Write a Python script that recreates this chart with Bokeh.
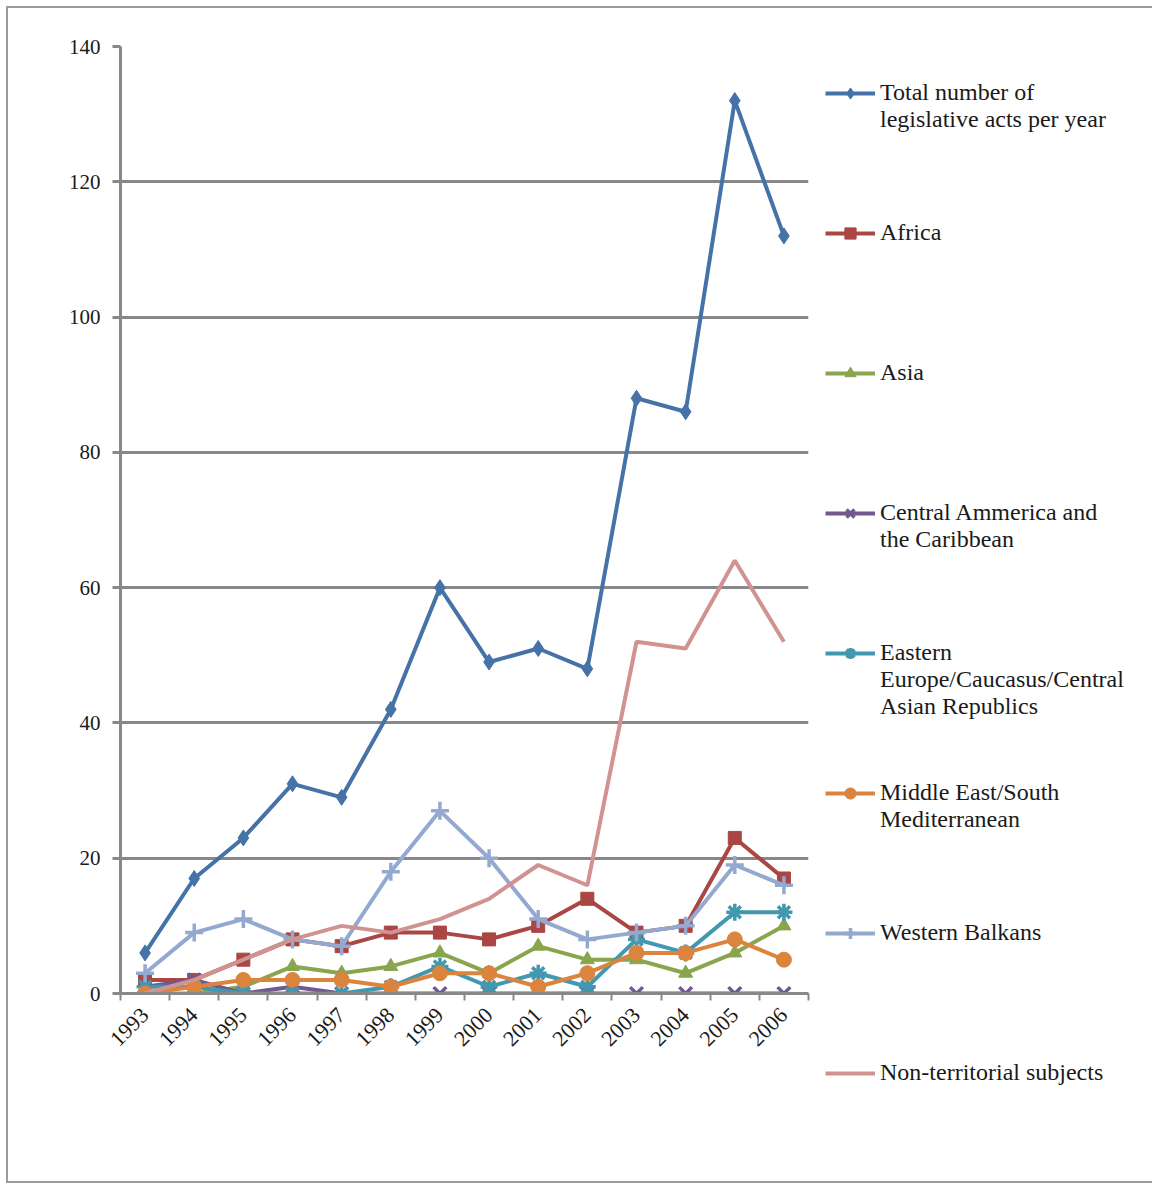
from bokeh.plotting import figure
from bokeh.models import FixedTicker, Legend, LegendItem, Range1d
from bokeh.embed import file_html
from bokeh.resources import INLINE

years = ["1993", "1994", "1995", "1996", "1997", "1998", "1999",
         "2000", "2001", "2002", "2003", "2004", "2005", "2006"]
total = [6, 17, 23, 31, 29, 42, 60, 49, 51, 48, 88, 86, 132, 112]
africa = [2, 2, 5, 8, 7, 9, 9, 8, 10, 14, 9, 10, 23, 17]
asia = [0, 0, 1, 4, 3, 4, 6, 3, 7, 5, 5, 3, 6, 10]
central_america = [1, 2, 0, 1, 0, 0, 0, 0, 0, 0, 0, 0, 0, 0]
eastern_europe = [1, 1, 0, 0, 0, 1, 4, 1, 3, 1, 8, 6, 12, 12]
middle_east = [0, 1, 2, 2, 2, 1, 3, 3, 1, 3, 6, 6, 8, 5]
western_balkans = [3, 9, 11, 8, 7, 18, 27, 20, 11, 8, 9, 10, 19, 16]
non_territorial = [0, 2, 5, 8, 10, 9, 11, 14, 19, 16, 52, 51, 64, 52]
y_ticks = [0, 20, 40, 60, 80, 100, 120, 140]

label_lines = [
    ["Total number of", "legislative acts per year"],
    ["Africa"],
    ["Asia"],
    ["Central Ammerica and", "the Caribbean"],
    ["Eastern", "Europe/Caucasus/Central", "Asian Republics"],
    ["Middle East/South", "Mediterranean"],
    ["Western Balkans"],
    ["Non-territorial subjects"],
]
series = [total, africa, asia, central_america, eastern_europe,
          middle_east, western_balkans, non_territorial]
colors = ["#4572A7", "#AA4643", "#89A54E", "#71588F", "#4198AF",
          "#DB843D", "#93A9CF", "#D19392"]
markers = ["diamond", "square", "triangle", "x", "asterisk", "circle", "cross", None]
sizes = [16, 13, 14, 18, 17, 15, 18, 0]

xs = list(range(len(years)))

p = figure(frame_width=688, frame_height=947, output_backend="svg", toolbar_location=None,
           x_range=Range1d(-0.5, len(years) - 0.5), y_range=Range1d(0, 140),
           min_border_left=112, min_border_right=340, min_border_top=38,
           min_border_bottom=188)
p.styles = {"border": "2px solid #9a9a9a", "margin-left": "6px", "margin-top": "6px"}
p.outline_line_color = None
p.background_fill_color = "white"

items = []
for ys, col, mk, sz, lines in zip(series, colors, markers, sizes, label_lines):
    rs = [p.line(xs, ys, line_color=col, line_width=4)]
    if mk is not None:
        if mk in ("x", "asterisk", "cross"):
            rs.append(p.scatter(xs, ys, marker=mk, size=sz, line_color=col,
                                line_width=3.5, fill_color=col))
        else:
            rs.append(p.scatter(xs, ys, marker=mk, size=sz, line_color=col,
                                fill_color=col))
    # pad so that the first text line sits at the vertical centre (glyph line)
    padded = [" ", " "] + lines + [" "] * (3 - len(lines))
    items.append(LegendItem(label="\n".join(padded), renderers=rs))

legend = Legend(items=items, location=(17, -147), border_line_color=None,
                background_fill_alpha=0, glyph_width=50, glyph_height=28,
                label_standoff=5, label_text_font="Liberation Serif",
                label_text_font_size="24px", label_text_color="#1a1a1a",
                label_height=28, spacing=5, padding=0, margin=0)
p.add_layout(legend, "right")

# axes
p.xaxis.ticker = FixedTicker(ticks=xs, minor_ticks=[i - 0.5 for i in range(len(years) + 1)])
p.xaxis.major_label_overrides = {i: y for i, y in enumerate(years)}
p.xaxis.major_label_orientation = 0.785
p.xaxis.major_tick_line_color = None
p.xaxis.minor_tick_out = 7
p.xaxis.minor_tick_in = 0
p.xaxis.minor_tick_line_color = "#888888"
p.xaxis.minor_tick_line_width = 2
p.xaxis.axis_line_color = "#888888"
p.xaxis.axis_line_width = 3
p.xaxis.major_label_text_font = "Liberation Serif"
p.xaxis.major_label_text_font_size = "22px"
p.xaxis.major_label_text_color = "#1a1a1a"
p.xaxis.major_label_standoff = 11

p.yaxis.ticker = FixedTicker(ticks=y_ticks)
p.yaxis.major_tick_out = 8
p.yaxis.major_tick_in = 0
p.yaxis.minor_tick_line_color = None
p.yaxis.major_tick_line_color = "#888888"
p.yaxis.major_tick_line_width = 3
p.yaxis.axis_line_color = "#888888"
p.yaxis.axis_line_width = 3
p.yaxis.major_label_text_font = "Liberation Serif"
p.yaxis.major_label_text_font_size = "21px"
p.yaxis.major_label_text_color = "#1a1a1a"
p.yaxis.major_label_standoff = 12

p.xgrid.grid_line_color = None
p.ygrid.grid_line_color = "#888888"
p.ygrid.grid_line_width = 3

open("out.html", "w").write(file_html(p, INLINE))
